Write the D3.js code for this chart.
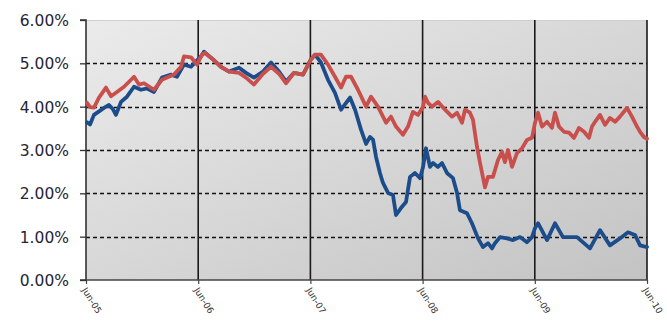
<!DOCTYPE html>
<html><head><meta charset="utf-8">
<script src="https://cdn.jsdelivr.net/npm/d3@7"></script>
<style>html,body{margin:0;padding:0;background:#fff;}svg{display:block;}</style>
</head><body>
<svg id="chart" width="667" height="331"></svg>
<script>
// time expressed as decimal years
const blueTimes = [2005.423,2005.450,2005.485,2005.530,2005.574,2005.619,2005.655,2005.681,2005.726,2005.779,2005.842,2005.904,2005.958,2006.020,2006.091,2006.172,2006.225,2006.287,2006.350,2006.394,2006.439,2006.466,2006.501,2006.546,2006.617,2006.689,2006.778,2006.840,2006.911,2006.992,2007.063,2007.134,2007.197,2007.268,2007.348,2007.419,2007.455,2007.508,2007.571,2007.633,2007.687,2007.767,2007.812,2007.865,2007.910,2007.945,2007.972,2007.999,2008.034,2008.061,2008.106,2008.150,2008.177,2008.221,2008.266,2008.302,2008.346,2008.391,2008.418,2008.444,2008.480,2008.507,2008.551,2008.587,2008.631,2008.685,2008.721,2008.747,2008.810,2008.854,2008.908,2008.952,2008.997,2009.033,2009.059,2009.104,2009.166,2009.220,2009.282,2009.344,2009.389,2009.416,2009.443,2009.523,2009.594,2009.665,2009.790,2009.906,2009.995,2010.084,2010.173,2010.245,2010.307,2010.352,2010.414];
const blueValues = [3.64,3.59,3.81,3.89,3.97,4.04,3.94,3.81,4.11,4.23,4.46,4.39,4.42,4.34,4.67,4.74,4.69,4.97,4.92,5.04,5.16,5.27,5.19,5.09,4.92,4.81,4.90,4.78,4.67,4.81,5.02,4.81,4.58,4.78,4.74,5.09,5.20,5.02,4.62,4.32,3.93,4.21,3.93,3.47,3.14,3.30,3.24,2.84,2.47,2.24,2.01,1.96,1.50,1.66,1.80,2.38,2.47,2.35,2.61,3.04,2.61,2.70,2.61,2.70,2.47,2.35,2.01,1.61,1.54,1.31,0.96,0.76,0.85,0.73,0.85,0.99,0.96,0.92,0.99,0.87,0.99,1.20,1.31,0.92,1.31,0.99,0.99,0.73,1.15,0.80,0.96,1.10,1.04,0.80,0.76];

const redTimes = [2005.423,2005.450,2005.485,2005.530,2005.592,2005.637,2005.690,2005.753,2005.842,2005.886,2005.931,2006.020,2006.091,2006.198,2006.261,2006.287,2006.350,2006.403,2006.448,2006.475,2006.546,2006.617,2006.689,2006.778,2006.840,2006.911,2006.992,2007.063,2007.134,2007.197,2007.268,2007.348,2007.419,2007.455,2007.508,2007.571,2007.633,2007.687,2007.731,2007.776,2007.838,2007.910,2007.954,2008.016,2008.088,2008.132,2008.177,2008.239,2008.284,2008.328,2008.373,2008.418,2008.435,2008.462,2008.498,2008.551,2008.614,2008.676,2008.721,2008.765,2008.792,2008.836,2008.863,2008.899,2008.926,2008.970,2008.997,2009.041,2009.086,2009.122,2009.148,2009.175,2009.211,2009.255,2009.300,2009.344,2009.389,2009.416,2009.443,2009.478,2009.523,2009.567,2009.594,2009.630,2009.674,2009.719,2009.763,2009.808,2009.853,2009.897,2009.924,2009.951,2009.995,2010.040,2010.084,2010.129,2010.173,2010.236,2010.280,2010.325,2010.352,2010.387,2010.414];
const redValues = [4.09,3.99,3.98,4.21,4.44,4.24,4.34,4.46,4.69,4.51,4.54,4.39,4.62,4.74,4.92,5.16,5.14,4.97,5.20,5.24,5.09,4.92,4.81,4.78,4.67,4.51,4.76,4.92,4.76,4.54,4.78,4.74,5.09,5.20,5.20,4.97,4.69,4.44,4.69,4.69,4.39,4.00,4.23,4.00,3.63,3.77,3.54,3.35,3.54,3.88,3.81,4.00,4.23,4.09,4.00,4.11,3.93,3.77,3.86,3.63,3.93,3.86,3.70,3.07,2.70,2.14,2.38,2.38,2.77,2.96,2.72,3.00,2.61,2.93,3.04,3.23,3.28,3.63,3.86,3.54,3.65,3.51,3.86,3.54,3.42,3.40,3.28,3.51,3.42,3.28,3.54,3.65,3.81,3.58,3.74,3.65,3.77,3.97,3.77,3.54,3.42,3.30,3.26];

const yTicks = [0,1,2,3,4,5,6];
const xTickTimes = [2005.414,2006.414,2007.414,2008.414,2009.414,2010.414];
const xTickLabels = ["Jun-05","Jun-06","Jun-07","Jun-08","Jun-09","Jun-10"];

const svg = d3.select("#chart");
const L = 86, R = 647, T = 20, B = 280;
const x = d3.scaleLinear().domain([xTickTimes[0], xTickTimes[xTickTimes.length-1]]).range([L, R]);
const y = d3.scaleLinear().domain([0, 6]).range([B, T]);

const defs = svg.append("defs");
const grad = defs.append("linearGradient").attr("id","bg").attr("x1","0").attr("y1","0").attr("x2","1").attr("y2","1");
grad.append("stop").attr("offset","0").attr("stop-color","#ebebeb");
grad.append("stop").attr("offset","1").attr("stop-color","#c3c3c3");
const blur = defs.append("filter").attr("id","soft").attr("x","-5%").attr("y","-5%").attr("width","110%").attr("height","110%");
blur.append("feGaussianBlur").attr("stdDeviation",0.45);

svg.append("rect").attr("x",L).attr("y",T).attr("width",R-L).attr("height",B-T).attr("fill","url(#bg)");
svg.append("line").attr("x1",L).attr("x2",R).attr("y1",T+0.5).attr("y2",T+0.5).attr("stroke","#cfcfcf");

// horizontal dashed gridlines
svg.append("g").selectAll("line").data(yTicks.filter(v=>v>0&&v<6)).join("line")
  .attr("x1",L).attr("x2",R).attr("y1",d=>Math.round(y(d))+0.5).attr("y2",d=>Math.round(y(d))+0.5)
  .attr("stroke","#111").attr("stroke-width",1.3).attr("stroke-dasharray","4,3");

// vertical gridlines
svg.append("g").selectAll("line").data(xTickTimes.slice(1)).join("line")
  .attr("x1",d=>x(d)).attr("x2",d=>x(d)).attr("y1",T).attr("y2",B)
  .attr("stroke","#1a1a1a").attr("stroke-width",1.6);

// y axis
const yAxis = d3.axisLeft(y).tickValues(yTicks).tickSize(6).tickFormat(d=>d3.format(".2f")(d)+"%");
const gy = svg.append("g").attr("transform",`translate(${L},0)`).call(yAxis);
gy.select(".domain").attr("stroke","#333").attr("stroke-width",1.6).attr("d",`M-6,${T}H0V${B}H-6`);
gy.selectAll(".tick line").attr("stroke","#333").attr("stroke-width",1.3);
gy.selectAll(".tick text").attr("font-family","DejaVu Sans, Verdana, sans-serif").attr("font-size",15.5)
  .attr("fill","#252535").attr("x",-17).attr("dy","0.36em");

// x axis
const xAxis = d3.axisBottom(x).tickValues(xTickTimes).tickSize(4).tickFormat((d,i)=>xTickLabels[i]);
const gx = svg.append("g").attr("transform",`translate(0,${B})`).call(xAxis);
gx.select(".domain").attr("stroke","#444").attr("stroke-width",1.6).attr("d",`M${L},0H${R}`);
gx.selectAll(".tick line").attr("stroke","#444").attr("stroke-width",1.2);
gx.selectAll(".tick text").attr("font-family","DejaVu Sans, Verdana, sans-serif").attr("font-size",9)
  .attr("fill","#333").attr("text-anchor","start").attr("y",0).attr("dy",0)
  .attr("transform","translate(-5,10) rotate(58)");

const line = d3.line().x(d=>x(d[0])).y(d=>y(d[1])).curve(d3.curveLinear);
const blue = blueTimes.map((t,i)=>[t, blueValues[i]]);
const red = redTimes.map((t,i)=>[t, redValues[i]]);
svg.append("path").datum(blue).attr("d",line).attr("fill","none").attr("stroke","#1f4e8a")
  .attr("stroke-width",3.8).attr("stroke-linejoin","round").attr("stroke-linecap","round").attr("filter","url(#soft)");
svg.append("path").datum(red).attr("d",line).attr("fill","none").attr("stroke","#c9504d")
  .attr("stroke-width",3.8).attr("stroke-linejoin","round").attr("stroke-linecap","round").attr("filter","url(#soft)");
</script>
</body></html>
